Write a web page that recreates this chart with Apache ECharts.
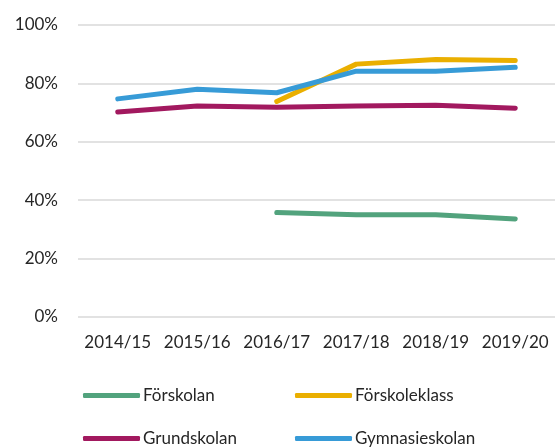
<!DOCTYPE html>
<html>
<head>
<meta charset="utf-8">
<script src="https://cdn.jsdelivr.net/npm/echarts@6/dist/echarts.min.js"></script>
<style>
  html, body { margin: 0; padding: 0; background: #fff; }
  #chart { width: 555px; height: 448px; }
</style>
</head>
<body>
<div id="chart"></div>
<script type="text/javascript">
    // data
    var years = ['2014/15', '2015/16', '2016/17', '2017/18', '2018/19', '2019/20'];
    var forskolan = [null, null, 35.8, 35.0, 35.0, 33.6];
    var forskoleklass = [null, null, 73.8, 86.6, 88.2, 87.8];
    var grundskolan = [70.2, 72.3, 71.8, 72.3, 72.5, 71.5];
    var gymnasieskolan = [74.7, 78.0, 76.8, 84.2, 84.2, 85.5];
    var yTicks = [0, 20, 40, 60, 80, 100];

    var chart = echarts.init(document.getElementById('chart'));
    var font = 'Lato, "Open Sans", sans-serif';

    function line(name, data, color) {
        return {
            name: name,
            type: 'line',
            data: data,
            symbol: 'none',
            lineStyle: { width: 5, color: color, cap: 'round', join: 'round' },
            itemStyle: { color: color }
        };
    }

    // one legend per item so the two columns line up like the reference
    function legendItem(name, left, top) {
        return {
            left: left,
            top: top,
            padding: 0,
            itemWidth: 57,
            itemHeight: 5,
            itemGap: 0,
            icon: 'roundRect',
            data: [name],
            textStyle: { fontFamily: font, fontSize: 17, color: '#262626', padding: [0, 0, 0, -2] }
        };
    }

    var option = {
        animation: false,
        grid: { left: 78, top: 25, width: 480, height: 292 },
        legend: [
            legendItem('Förskolan', 83, 387),
            legendItem('Förskoleklass', 295, 387),
            legendItem('Grundskolan', 83, 430),
            legendItem('Gymnasieskolan', 295, 430)
        ],
        xAxis: {
            type: 'category',
            data: years,
            boundaryGap: true,
            axisLine: { show: false },
            axisTick: { show: false },
            axisLabel: { interval: 0, fontFamily: font, fontSize: 17, color: '#262626', margin: 17 }
        },
        yAxis: {
            type: 'value',
            min: yTicks[0],
            max: yTicks[yTicks.length - 1],
            interval: 20,
            axisLine: { show: false },
            axisTick: { show: false },
            axisLabel: { fontFamily: font, fontSize: 17, color: '#262626', margin: 20, formatter: '{value}%' },
            splitLine: { lineStyle: { color: '#d9d9d9', width: 1.5 } }
        },
        series: [
            line('Förskolan', forskolan, '#52a37d'),
            line('Förskoleklass', forskoleklass, '#eaaf00'),
            line('Grundskolan', grundskolan, '#a2195f'),
            line('Gymnasieskolan', gymnasieskolan, '#379bd7')
        ]
    };

    chart.setOption(option);
</script>
</body>
</html>
